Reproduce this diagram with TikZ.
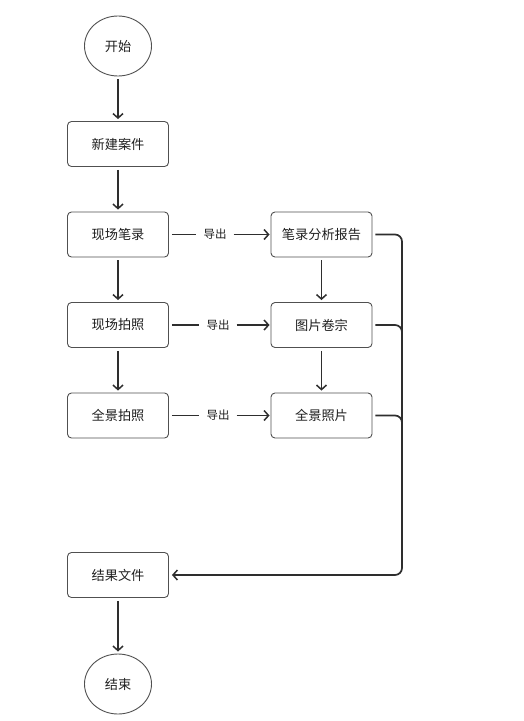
\documentclass[tikz,border=0pt]{standalone}
\usepackage{fontspec}
\setmainfont{Noto Sans CJK SC}
\usetikzlibrary{arrows.meta,shapes.geometric}
\definecolor{boxline}{HTML}{505050}
\definecolor{conn}{HTML}{2E2E2E}
\begin{document}
\begin{tikzpicture}[x=1pt,y=-1pt,
  stepbox/.style={draw=boxline,line width=0.9pt,rounded corners=4pt,minimum width=101pt,minimum height=45pt,inner sep=0pt,font=\fontsize{13.2pt}{15pt}\selectfont,text=black!88},
  term/.style={draw=boxline,line width=0.9pt,ellipse,minimum width=67pt,minimum height=60pt,inner sep=0pt,font=\fontsize{13.2pt}{15pt}\selectfont,text=black!88},
  tipstyle/.style={-{Straight Barb[length=4.5pt,width=10pt,line width=1.5pt]}},
  conarrow/.style={draw=conn,line width=1.7pt,tipstyle,shorten <=3pt,shorten >=2pt},
  plainline/.style={draw=conn,line width=1.7pt,shorten <=3pt},
  busline/.style={draw=conn,line width=1.7pt,rounded corners=7pt,shorten <=3pt},
  lbl/.style={font=\fontsize{11.5pt}{13pt}\selectfont,text=black!88,inner ysep=0pt,inner xsep=7pt}]
\useasboundingbox (0,0) rectangle (523,721);
\node[term] (start) at (118,46) {开始};
\node[stepbox] (new) at (118,144) {新建案件};
\node[stepbox] (a1) at (118,234.5) {现场笔录};
\node[stepbox] (a2) at (118,325) {现场拍照};
\node[stepbox] (a3) at (118,415.5) {全景拍照};
\node[stepbox] (b1) at (321.5,234.5) {笔录分析报告};
\node[stepbox] (b2) at (321.5,325) {图片卷宗};
\node[stepbox] (b3) at (321.5,415.5) {全景照片};
\node[stepbox] (res) at (118,575) {结果文件};
\node[term] (end) at (118,684) {结束};
\node[lbl] (x1) at (215,234.5) {导出};
\node[lbl] (x2) at (218,325) {导出};
\node[lbl] (x3) at (218,415.5) {导出};
\coordinate (busbot) at (402,575);
\coordinate (busmid) at (402,500);
\draw[conarrow] (start) -- (new);
\draw[conarrow] (new) -- (a1);
\draw[conarrow] (a1) -- (a2);
\draw[conarrow] (a2) -- (a3);
\draw[conarrow] (b1) -- (b2);
\draw[conarrow] (b2) -- (b3);
\draw[conarrow] (res) -- (end);
\draw[plainline] (a1.east) -- (x1.west);
\draw[plainline] (a2.east) -- (x2.west);
\draw[plainline] (a3.east) -- (x3.west);
\draw[conarrow,shorten <=0pt,shorten >=1pt] (x1.east) -- (b1.west);
\draw[conarrow,shorten <=0pt,shorten >=1pt] (x2.east) -- (b2.west);
\draw[conarrow,shorten <=0pt,shorten >=1pt] (x3.east) -- (b3.west);
\draw[busline] (b2.east) -| (busmid);
\draw[busline] (b3.east) -| (busmid);
\draw[busline,tipstyle,shorten >=3pt] (b1.east) -| (busbot) -- (res.east);
\end{tikzpicture}
\end{document}
